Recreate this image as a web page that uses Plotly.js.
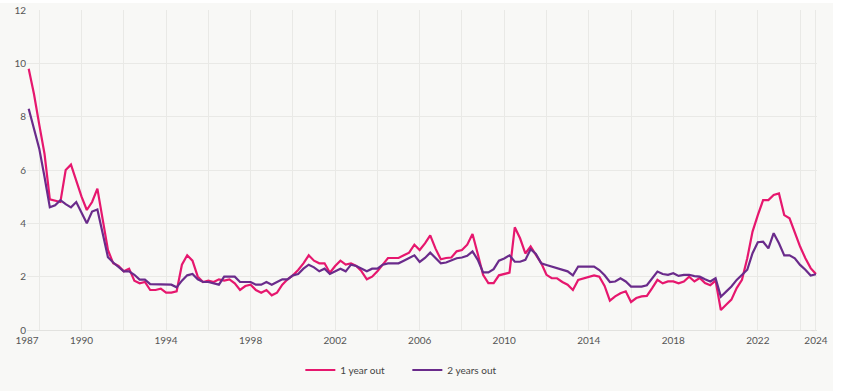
<!DOCTYPE html>
<html>
<head>
<meta charset="utf-8">
<script src="https://cdn.plot.ly/plotly-3.0.1.min.js"></script>
<style>
  html, body { margin: 0; padding: 0; background: #ffffff; }
  #chart { position: absolute; left: 0; top: 3px; width: 833px; height: 388px; }
</style>
</head>
<body>
<div id="chart"></div>
<script>
// Quarterly series: first quarter is Q3 1987, last is Q4 2024
const firstQuarter = 1987.5;
const quarterStep = 0.25;

const oneYearOut = [
  9.8, 8.85, 7.7, 6.6, 4.9, 4.85, 4.8, 6.0, 6.2, 5.6,
  5.0, 4.5, 4.8, 5.3, 4.1, 3.0, 2.5, 2.4, 2.2, 2.3,
  1.85, 1.75, 1.8, 1.5, 1.5, 1.55, 1.4, 1.4, 1.45, 2.45,
  2.8, 2.6, 2.0, 1.8, 1.85, 1.8, 1.9, 1.85, 1.9, 1.75,
  1.5, 1.65, 1.7, 1.5, 1.4, 1.5, 1.3, 1.4, 1.7, 1.9,
  2.05, 2.25, 2.5, 2.8, 2.6, 2.5, 2.5, 2.15, 2.4, 2.6,
  2.45, 2.5, 2.4, 2.2, 1.9, 2.0, 2.2, 2.45, 2.7, 2.7,
  2.7, 2.8, 2.9, 3.2, 3.0, 3.25, 3.55, 3.05, 2.65, 2.7,
  2.72, 2.95, 3.0, 3.2, 3.6, 2.85, 2.07, 1.76, 1.76, 2.05,
  2.1, 2.15, 3.85, 3.44, 2.87, 3.13, 2.82, 2.51, 2.07, 1.94,
  1.94, 1.8, 1.7, 1.5, 1.88, 1.94, 2.0, 2.05, 2.0, 1.65,
  1.1, 1.26, 1.38, 1.45, 1.05, 1.2, 1.26, 1.28, 1.57, 1.88,
  1.75, 1.82, 1.82, 1.75, 1.82, 2.0, 1.82, 1.95, 1.76, 1.68,
  1.85, 0.75, 0.95, 1.14, 1.57, 1.88, 2.69, 3.69, 4.31, 4.87,
  4.87, 5.06, 5.12, 4.31, 4.19, 3.63, 3.13, 2.69, 2.32, 2.1
];

const twoYearsOut = [
  8.3, 7.5, 6.8, 5.74, 4.6, 4.68, 4.87, 4.72, 4.6, 4.8,
  4.37, 4.0, 4.44, 4.52, 3.63, 2.73, 2.53, 2.38, 2.2, 2.2,
  2.07, 1.89, 1.89, 1.72, 1.72, 1.7, 1.7, 1.7, 1.6, 1.85,
  2.05, 2.1, 1.9, 1.8, 1.8, 1.75, 1.7, 2.0, 2.0, 2.0,
  1.8, 1.8, 1.8, 1.7, 1.7, 1.8, 1.7, 1.8, 1.9, 1.9,
  2.05, 2.1, 2.3, 2.45, 2.35, 2.2, 2.3, 2.1, 2.2, 2.3,
  2.2, 2.45, 2.4, 2.3, 2.2, 2.3, 2.3, 2.45, 2.5, 2.5,
  2.5, 2.6, 2.7, 2.8, 2.55, 2.7, 2.9, 2.7, 2.5, 2.53,
  2.6, 2.69, 2.72, 2.78, 2.95, 2.63, 2.16, 2.16, 2.28, 2.6,
  2.68, 2.8, 2.56, 2.56, 2.63, 3.03, 2.85, 2.5, 2.44, 2.38,
  2.3, 2.25, 2.2, 2.05, 2.38, 2.38, 2.38, 2.38, 2.25, 2.05,
  1.8, 1.82, 1.94, 1.82, 1.63, 1.63, 1.63, 1.68, 1.94, 2.19,
  2.1, 2.07, 2.13, 2.03, 2.07, 2.07, 2.02, 2.0, 1.9, 1.82,
  1.94, 1.25, 1.44, 1.63, 1.88, 2.07, 2.26, 2.88, 3.29, 3.31,
  3.06, 3.63, 3.25, 2.8, 2.8, 2.69, 2.44, 2.26, 2.04, 2.09
];

const seriesNames = ['1 year out', '2 years out'];
const seriesColors = ['#e6176e', '#6a2b8b'];

const xTickVals = [1987.42, 1990, 1994, 1998, 2002, 2006, 2010, 2014, 2018, 2022, 2024.75];
const xTickText = ['1987', '1990', '1994', '1998', '2002', '2006', '2010', '2014', '2018', '2022', '2024'];
const yTickVals = [0, 2, 4, 6, 8, 10, 12];

const quarters = oneYearOut.map((_, i) => firstQuarter + i * quarterStep);

const traces = [oneYearOut, twoYearsOut].map((ys, k) => ({
  type: 'scatter',
  mode: 'lines',
  name: seriesNames[k],
  x: quarters,
  y: ys,
  line: { color: seriesColors[k], width: 2.2 },
  hoverinfo: 'skip'
}));

const bg = '#f8f8f6';
const grid = '#e9e9e6';

const layout = {
  width: 833,
  height: 388,
  paper_bgcolor: bg,
  plot_bgcolor: bg,
  margin: { l: 27, r: 16, t: 7, b: 59 },
  font: { family: 'Lato, "Open Sans", sans-serif', size: 10, color: '#555' },
  showlegend: true,
  legend: {
    orientation: 'h',
    x: 0.346, xanchor: 'left',
    y: -0.125, yanchor: 'middle',
    font: { size: 10, color: '#444' },
    bgcolor: 'rgba(0,0,0,0)',
    itemwidth: 30,
    entrywidth: 62
  },
  xaxis: {
    range: [1987.42, 2024.8],
    tickmode: 'array',
    tickvals: xTickVals,
    ticktext: xTickText,
    showgrid: true,
    gridcolor: grid,
    gridwidth: 1,
    zeroline: false,
    showline: false,
    ticks: '',
    ticklabelstandoff: 3,
    tickfont: { size: 10, color: '#555' },
    minor: { tick0: 1988, dtick: 2, showgrid: true, gridcolor: grid, gridwidth: 1, ticks: '' },
    fixedrange: true
  },
  yaxis: {
    range: [0, 12],
    tickmode: 'array',
    tickvals: yTickVals,
    showgrid: true,
    gridcolor: grid,
    gridwidth: 1,
    zeroline: true,
    zerolinecolor: '#e2e2df',
    showline: false,
    ticks: '',
    tickfont: { size: 10, color: '#555' },
    fixedrange: true
  }
};

Plotly.newPlot('chart', traces, layout, { displayModeBar: false, staticPlot: true });
</script>
</body>
</html>
